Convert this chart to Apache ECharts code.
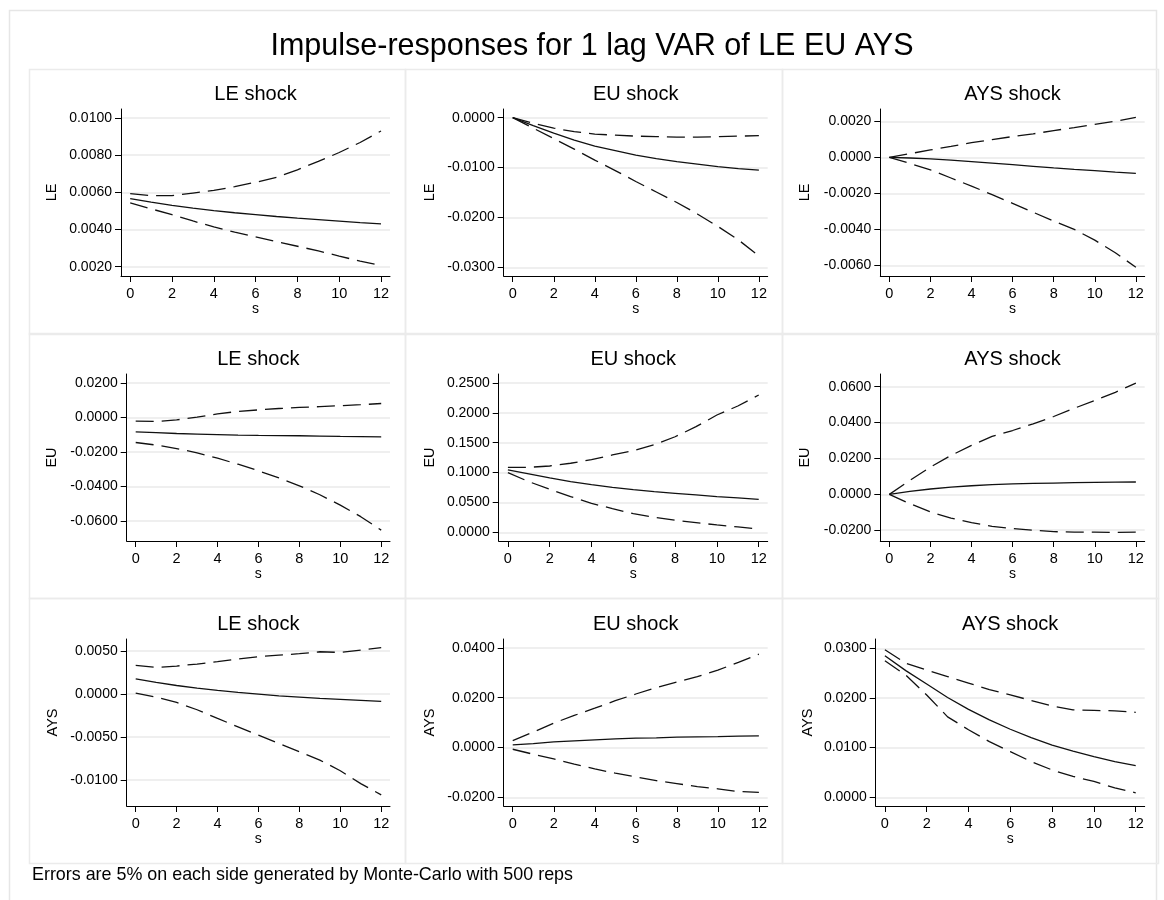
<!DOCTYPE html>
<html>
<head>
<meta charset="utf-8">
<script src="https://cdn.jsdelivr.net/npm/echarts@6/dist/echarts.min.js"></script>
<style>
  html, body { margin: 0; padding: 0; background: #fff; }
  #chart { width: 1164px; height: 900px; }
</style>
</head>
<body>
<div id="chart"></div>
<script>
// ---------------- data ----------------
const steps = [0, 1, 2, 3, 4, 5, 6, 7, 8, 9, 10, 11, 12];
const xTicks = [0, 2, 4, 6, 8, 10, 12];

const mainTitle = 'Impulse-responses for 1 lag VAR of LE EU AYS';
const footNote = 'Errors are 5% on each side generated by Monte-Carlo with 500 reps';

// response LE, impulse LE
const hi_LE_LE  = [0.00593,0.00582,0.00582,0.00596,0.0061,0.0063,0.00654,0.0068,0.00721,0.00766,0.00814,0.00868,0.0093];
const irf_LE_LE = [0.00566,0.00547,0.0053,0.00515,0.00502,0.0049,0.0048,0.0047,0.00461,0.00453,0.00445,0.00437,0.0043];
const lo_LE_LE  = [0.00543,0.00511,0.0048,0.00446,0.00414,0.00386,0.0036,0.00335,0.0031,0.00285,0.00257,0.0023,0.00207];
const ticks_LE_LE = [0.002, 0.004, 0.006, 0.008, 0.010];

// response LE, impulse EU
const hi_LE_EU  = [0,-0.00114,-0.0021,-0.0028,-0.0033,-0.0035,-0.0037,-0.0038,-0.0039,-0.0039,-0.0038,-0.0037,-0.0036];
const irf_LE_EU = [0,-0.0016,-0.0031,-0.0045,-0.0057,-0.0066,-0.0075,-0.0082,-0.0088,-0.0093,-0.0098,-0.0102,-0.0105];
const lo_LE_EU  = [0,-0.0021,-0.0042,-0.0063,-0.0085,-0.0106,-0.0128,-0.0149,-0.017,-0.0193,-0.0218,-0.0245,-0.0277];
const ticks_LE_EU = [-0.03, -0.02, -0.01, 0];

// response LE, impulse AYS
const hi_LE_AYS  = [0,0.0002,0.00041,0.0006,0.00081,0.00098,0.00115,0.0013,0.00148,0.00165,0.00183,0.002,0.00222];
const irf_LE_AYS = [0,-0.00004,-0.00009,-0.00016,-0.00024,-0.00032,-0.00041,-0.0005,-0.00059,-0.00067,-0.00074,-0.00082,-0.00089];
const lo_LE_AYS  = [0,-0.00034,-0.0007,-0.00115,-0.0016,-0.00207,-0.00256,-0.00305,-0.00354,-0.004,-0.0046,-0.0053,-0.0061];
const ticks_LE_AYS = [-0.006, -0.004, -0.002, 0, 0.002];

// response EU, impulse LE
const hi_EU_LE  = [-0.0021,-0.0023,-0.0014,0.0002,0.0021,0.0035,0.0044,0.0052,0.0058,0.0063,0.0068,0.0074,0.0081];
const irf_EU_LE = [-0.0083,-0.0088,-0.0093,-0.0096,-0.0099,-0.0102,-0.0104,-0.0105,-0.0106,-0.0108,-0.011,-0.0111,-0.0112];
const lo_EU_LE  = [-0.0145,-0.016,-0.018,-0.0205,-0.0236,-0.0271,-0.0309,-0.035,-0.0396,-0.0448,-0.0508,-0.0575,-0.0653];
const ticks_EU_LE = [-0.06, -0.04, -0.02, 0, 0.02];

// response EU, impulse EU
const hi_EU_EU  = [0.1088,0.1088,0.111,0.1156,0.1217,0.1295,0.1367,0.1468,0.16,0.1769,0.1964,0.2115,0.2299];
const irf_EU_EU = [0.1044,0.0977,0.091,0.0848,0.0798,0.0753,0.0714,0.0681,0.0653,0.0625,0.0597,0.0575,0.0552];
const lo_EU_EU  = [0.1,0.0848,0.072,0.0597,0.0485,0.0396,0.0312,0.0251,0.0201,0.0162,0.0123,0.0089,0.0056];
const ticks_EU_EU = [0, 0.05, 0.10, 0.15, 0.20, 0.25];

// response EU, impulse AYS
const hi_EU_AYS  = [0,0.0078,0.0152,0.0217,0.0273,0.0323,0.0356,0.0393,0.0434,0.048,0.0523,0.0569,0.062];
const irf_EU_AYS = [0,0.0017,0.003,0.004,0.0048,0.0054,0.0058,0.0061,0.0063,0.0065,0.0067,0.0068,0.0069];
const lo_EU_AYS  = [0,-0.0052,-0.0098,-0.0132,-0.0158,-0.0178,-0.0191,-0.02,-0.0208,-0.021,-0.021,-0.0212,-0.021];
const ticks_EU_AYS = [-0.02, 0, 0.02, 0.04, 0.06];

// response AYS, impulse LE
const hi_AYS_LE  = [0.00333,0.0031,0.00326,0.00349,0.00376,0.00407,0.00434,0.00453,0.00469,0.00492,0.00484,0.00512,0.00539];
const irf_AYS_LE = [0.00178,0.00136,0.001,0.0007,0.00043,0.0002,0,-0.0002,-0.00035,-0.0005,-0.00062,-0.00074,-0.00085];
const lo_AYS_LE  = [0.00012,-0.00035,-0.00097,-0.00182,-0.00283,-0.0038,-0.00477,-0.00574,-0.0067,-0.00767,-0.0089,-0.0104,-0.0117];
const ticks_AYS_LE = [-0.01, -0.005, 0, 0.005];

// response AYS, impulse EU
const hi_AYS_EU  = [0.0028,0.0062,0.0098,0.0129,0.0158,0.0188,0.0215,0.0241,0.0263,0.0285,0.0311,0.0342,0.0375];
const irf_AYS_EU = [0.0011,0.0016,0.0023,0.0027,0.0031,0.0035,0.0038,0.0039,0.0042,0.0043,0.0044,0.0046,0.0047];
const lo_AYS_EU  = [-0.0007,-0.0027,-0.0046,-0.0067,-0.0086,-0.0103,-0.0118,-0.0133,-0.0145,-0.0157,-0.0166,-0.0177,-0.018];
const ticks_AYS_EU = [-0.02, 0, 0.02, 0.04];

// response AYS, impulse AYS
const hi_AYS_AYS  = [0.0297,0.027,0.0256,0.0243,0.023,0.0217,0.0206,0.0195,0.0184,0.0176,0.0175,0.0174,0.0171];
const irf_AYS_AYS = [0.0285,0.0255,0.0228,0.0201,0.0177,0.0156,0.0137,0.012,0.0105,0.0093,0.0082,0.0072,0.0064];
const lo_AYS_AYS  = [0.0275,0.0246,0.0206,0.0162,0.0136,0.0112,0.0092,0.0072,0.0055,0.0042,0.0032,0.0019,0.0009];
const ticks_AYS_AYS = [0, 0.01, 0.02, 0.03];

// ---------------- layout ----------------
const FONT = '"Liberation Sans", Arial, Helvetica, sans-serif';
const rowTop = [109, 374, 639];
const rowBox = [69, 333, 598];
const colBox = [29, 405, 782];
const boxW = [376, 377, 376];
const boxH = 265;
const plotH = 167;
const colRight = [390, 767.7, 1144.7];

const panels = [
  {r:0,c:0,title:'LE shock', yName:'LE',  hi:hi_LE_LE,  irf:irf_LE_LE,  lo:lo_LE_LE,  ticks:ticks_LE_LE,  yMin:0.0015,  yMax:0.01048, left:121,   nameGap:69},
  {r:0,c:1,title:'EU shock', yName:'LE',  hi:hi_LE_EU,  irf:irf_LE_EU,  lo:lo_LE_EU,  ticks:ticks_LE_EU,  yMin:-0.03174,yMax:0.00174, left:503.7, nameGap:74},
  {r:0,c:2,title:'AYS shock',yName:'LE',  hi:hi_LE_AYS, irf:irf_LE_AYS, lo:lo_LE_AYS, ticks:ticks_LE_AYS, yMin:-0.00659,yMax:0.00268, left:880.3, nameGap:75},
  {r:1,c:0,title:'LE shock', yName:'EU',  hi:hi_EU_LE,  irf:irf_EU_LE,  lo:lo_EU_LE,  ticks:ticks_EU_LE,  yMin:-0.0716, yMax:0.0252,  left:126.7, nameGap:75},
  {r:1,c:1,title:'EU shock', yName:'EU',  hi:hi_EU_EU,  irf:irf_EU_EU,  lo:lo_EU_EU,  ticks:ticks_EU_EU,  yMin:-0.0146, yMax:0.2651,  left:498.7, nameGap:69},
  {r:1,c:2,title:'AYS shock',yName:'EU',  hi:hi_EU_AYS, irf:irf_EU_AYS, lo:lo_EU_AYS, ticks:ticks_EU_AYS, yMin:-0.026,  yMax:0.0671,  left:880.3, nameGap:75},
  {r:2,c:0,title:'LE shock', yName:'AYS', hi:hi_AYS_LE, irf:irf_AYS_LE, lo:lo_AYS_LE, ticks:ticks_AYS_LE, yMin:-0.013,  yMax:0.0064,  left:126.7, nameGap:74},
  {r:2,c:1,title:'EU shock', yName:'AYS', hi:hi_AYS_EU, irf:irf_AYS_EU, lo:lo_AYS_EU, ticks:ticks_AYS_EU, yMin:-0.0235, yMax:0.0436,  left:503.7, nameGap:74},
  {r:2,c:2,title:'AYS shock',yName:'AYS', hi:hi_AYS_AYS,irf:irf_AYS_AYS,lo:lo_AYS_AYS,ticks:ticks_AYS_AYS,yMin:-0.00175,yMax:0.03187, left:875.7, nameGap:68}
];

const toPairs = arr => steps.map((s, i) => [s, arr[i]]);

const grids = [], xAxes = [], yAxes = [], series = [], titles = [], graphics = [];

titles.push({
  text: mainTitle, left: 592, top: 47, padding: 0,
  textAlign: 'center', textVerticalAlign: 'middle',
  textStyle: { fontFamily: FONT, fontSize: 30.5, fontWeight: 'normal', color: '#000' }
});
titles.push({
  text: footNote, left: 32, top: 875, padding: 0,
  textAlign: 'left', textVerticalAlign: 'middle',
  textStyle: { fontFamily: FONT, fontSize: 17.9, fontWeight: 'normal', color: '#000' }
});

// outer frame
graphics.push({ type: 'rect', silent: true, z: -10,
  shape: { x: 9.5, y: 10.5, width: 1147, height: 900 },
  style: { fill: '#fff', stroke: '#e6e6e6', lineWidth: 1.5 } });

panels.forEach((p, i) => {
  const top = rowTop[p.r];
  const width = colRight[p.c] - p.left;
  grids.push({ left: p.left, top: top, width: width, height: plotH, containLabel: false });

  graphics.push({ type: 'rect', silent: true, z: -5,
    shape: { x: colBox[p.c] + 0.5, y: rowBox[p.r] + 0.5, width: boxW[p.c], height: boxH },
    style: { fill: 'none', stroke: '#ebebeb', lineWidth: 1.5 } });

  titles.push({
    text: p.title, left: p.left + width / 2, top: top - 15, padding: 0,
    textAlign: 'center', textVerticalAlign: 'middle',
    textStyle: { fontFamily: FONT, fontSize: 20, fontWeight: 'normal', color: '#000' }
  });

  xAxes.push({
    type: 'value', gridIndex: i, min: -0.44, max: 12.43,
    name: 's', nameLocation: 'middle', nameGap: 24,
    nameTextStyle: { fontFamily: FONT, fontSize: 14, color: '#000' },
    axisLine: { show: true, onZero: false, lineStyle: { color: '#000', width: 1 } },
    axisTick: { show: true, inside: false, length: 6, customValues: xTicks, lineStyle: { color: '#000', width: 1 } },
    axisLabel: { show: true, margin: 10, customValues: xTicks, fontFamily: FONT, fontSize: 14.5, color: '#000',
                 formatter: v => String(v) },
    splitLine: { show: false }
  });

  yAxes.push({
    type: 'value', gridIndex: i, min: p.yMin, max: p.yMax,
    name: p.yName, nameLocation: 'middle', nameRotate: 90, nameGap: p.nameGap,
    nameTextStyle: { fontFamily: FONT, fontSize: 14.5, color: '#000', verticalAlign: 'middle', align: 'center' },
    axisLine: { show: true, onZero: false, lineStyle: { color: '#000', width: 1 } },
    axisTick: { show: true, inside: false, length: 6, customValues: p.ticks, lineStyle: { color: '#000', width: 1 } },
    axisLabel: { show: true, margin: 9, customValues: p.ticks, fontFamily: FONT, fontSize: 14, color: '#000',
                 formatter: v => (Math.abs(v) < 1e-12 ? 0 : v).toFixed(4) },
    splitLine: { show: true, lineStyle: { color: '#eaeaea', width: 1.5 } }
  });

  const mk = (arr, dashed, name) => ({
    type: 'line', name: name, xAxisIndex: i, yAxisIndex: i,
    data: toPairs(arr), symbol: 'none', showSymbol: false, smooth: false,
    silent: true, animation: false,
    lineStyle: { color: '#111', width: 1.3, type: dashed ? [18, 8] : 'solid' }
  });
  series.push(mk(p.hi, true, 'upper'));
  series.push(mk(p.irf, false, 'irf'));
  series.push(mk(p.lo, true, 'lower'));
});

const chart = echarts.init(document.getElementById('chart'), null, { renderer: 'canvas' });
chart.setOption({
  backgroundColor: '#ffffff',
  animation: false,
  title: titles,
  grid: grids,
  xAxis: xAxes,
  yAxis: yAxes,
  series: series,
  graphic: graphics
});
</script>
</body>
</html>
